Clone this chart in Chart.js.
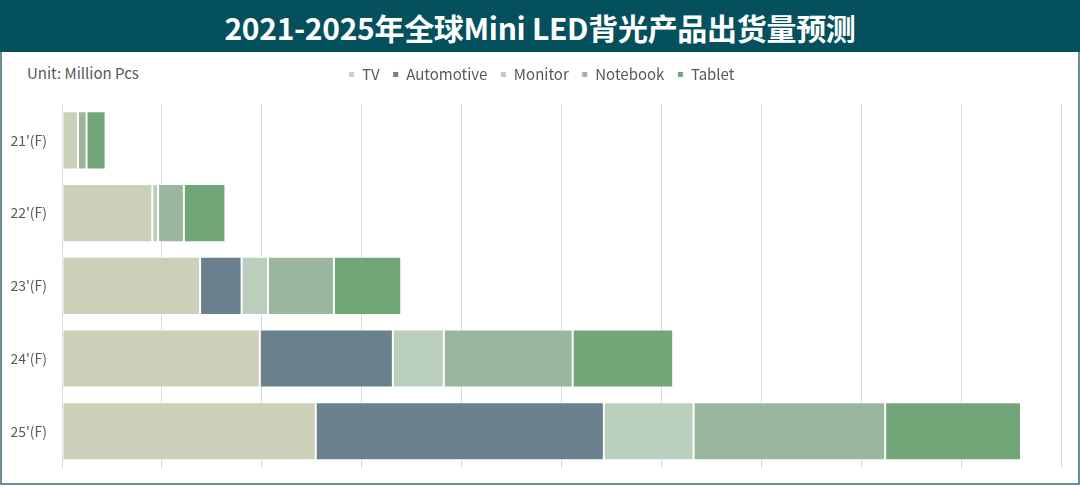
<!DOCTYPE html>
<html>
<head>
<meta charset="utf-8">
<script src="https://cdn.jsdelivr.net/npm/chart.js@4.4.1/dist/chart.umd.min.js"></script>
<style>
html,body{margin:0;padding:0;background:#fff;}
body{width:1080px;height:487px;position:relative;overflow:hidden;font-family:"Noto Sans CJK SC","Noto Sans",sans-serif;}
#title{position:absolute;left:0;top:0;width:1080px;height:52px;background:#04515d;color:#fff;
font-weight:bold;font-size:30px;line-height:54px;text-align:center;letter-spacing:-0.3px;}
#frame{position:absolute;left:0;top:52px;width:1076px;height:431px;border:2px solid #6f8b93;border-top:none;}
#unit{position:absolute;left:27px;top:62px;font-size:15px;color:#595959;}
#box{position:absolute;left:0;top:52px;width:1080px;height:439px;}
</style>
</head>
<body>
<div id="title">2021-2025年全球Mini LED背光产品出货量预测</div>
<div id="frame"></div>
<div id="unit">Unit: Million Pcs</div>
<div id="box"><canvas id="shipChart"></canvas></div>
<script>
const years = ["21'(F)","22'(F)","23'(F)","24'(F)","25'(F)"];
const seriesNames = ["TV","Automotive","Monitor","Notebook","Tablet"];
const tv = [0.8, 4.52, 6.91, 9.9, 12.7];
const automotive = [0, 0, 2.08, 6.66, 14.42];
const monitor = [0, 0.29, 1.32, 2.55, 4.49];
const notebook = [0.43, 1.29, 3.30, 6.45, 9.59];
const tablet = [0.95, 2.08, 3.37, 5.03, 6.8];

const colors = ["#cbd0b9","#6a808c","#bbcfbf","#9bb69f","#72a578"];
const values = [tv, automotive, monitor, notebook, tablet];

// extra room under the legend, and nudge it right a bit
const legendSpace = {
id:"legendSpace",
beforeInit(chart){
const fit = chart.legend.fit;
chart.legend.fit = function(){
fit.call(this);
this.height += 12;
};
},
afterLayout(chart){
chart.legend.left += 11;
chart.legend.right += 11;
}
};

const ctx = document.getElementById("shipChart");

const chart = new Chart(ctx,{
type:"bar",
data:{
labels:years,
datasets:seriesNames.map((name,i)=>({
label:name,
data:values[i],
backgroundColor:colors[i],
borderColor:"#ffffff",
borderWidth:1,
borderSkipped:false,
barPercentage:0.8,
categoryPercentage:1
}))
},
options:{
indexAxis:"y",
responsive:true,
maintainAspectRatio:false,
animation:false,
layout:{
padding:{left:0,right:19,top:2,bottom:10}
},
scales:{
x:{
stacked:true,
min:0,
max:50,
ticks:{display:false,stepSize:5},
border:{display:false},
grid:{color:"#d9d9d9",lineWidth:1,drawTicks:false}
},
y:{
stacked:true,
border:{display:false},
grid:{display:false,drawTicks:false},
ticks:{
color:"#595959",
padding:15,
font:{family:"'Noto Sans CJK SC', sans-serif",size:14}
},
afterFit:scale=>{ scale.width = 62; }
}
},
plugins:{
legend:{
position:"top",
labels:{
color:"#595959",
boxWidth:6,
boxHeight:6,
padding:13,
font:{family:"'Noto Sans CJK SC', sans-serif",size:15}
}
},
tooltip:{enabled:false}
}
},
plugins:[legendSpace]
});
</script>
</body>
</html>
